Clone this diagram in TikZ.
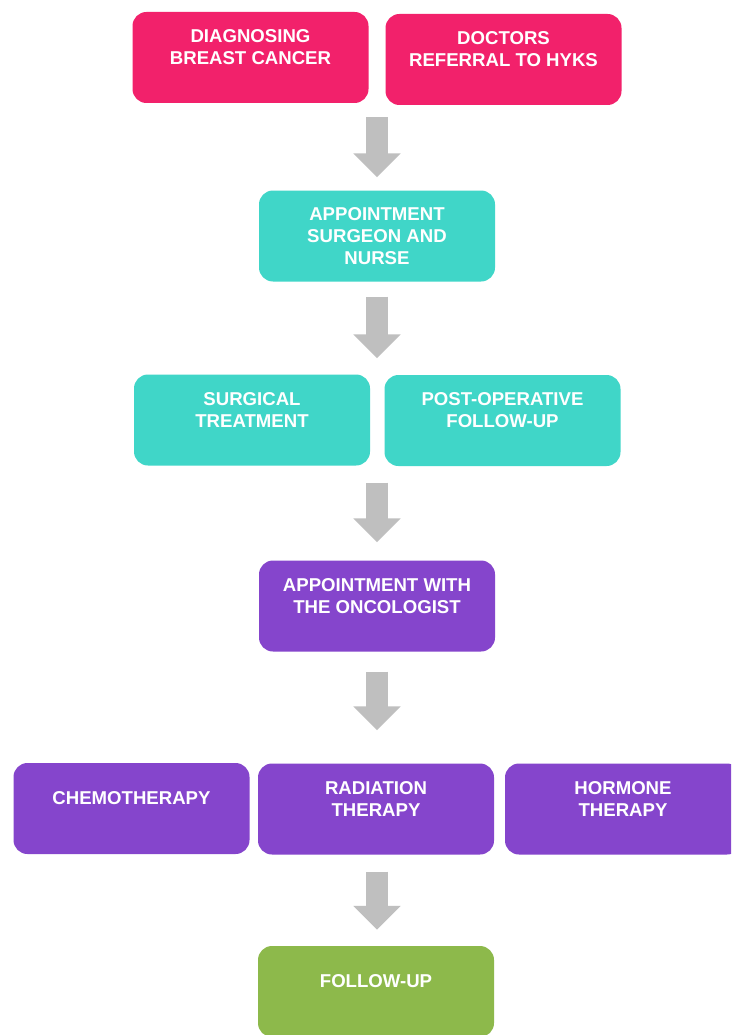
\documentclass[tikz,border=0pt]{standalone}
\usepackage{fontspec}
\setmainfont{Liberation Sans}
\usetikzlibrary{arrows.meta}
\definecolor{cPink}{HTML}{F2216B}
\definecolor{cTeal}{HTML}{40D6C8}
\definecolor{cPurple}{HTML}{8545CC}
\definecolor{cGreen}{HTML}{8DB94B}
\definecolor{cGray}{HTML}{BFBFBF}
\newcommand{\steptext}[2][20pt]{\parbox[c][91pt][c]{226pt}{\centering #2\par\vspace{#1}}}
\tikzset{
    stepbox/.style={fill=#1, rounded corners=14pt, minimum width=236pt, inner sep=0pt,
        text=white, font=\fontsize{18.6}{22}\selectfont\bfseries},
    flow/.style={cGray, line width=22pt, -{Triangle[width=46pt,length=24pt]}}
}

\begin{document}
\begin{tikzpicture}[x=1pt,y=-1pt]
\clip (0,0) rectangle (731,1035);
\fill[white] (0,0) rectangle (731,1035);
\node[stepbox=cPink] (diag) at (250.5, 57.5) {\steptext{DIAGNOSING\\BREAST CANCER}};
\node[stepbox=cPink] (refer) at (503.5, 59.5) {\steptext{DOCTORS\\REFERRAL TO HYKS}};
\node[stepbox=cTeal] (surg) at (377, 236) {\steptext[0pt]{APPOINTMENT\\SURGEON AND\\NURSE}};
\node[stepbox=cTeal] (surgical) at (252, 420) {\steptext{SURGICAL\\TREATMENT}};
\node[stepbox=cTeal] (postop) at (502.5, 420.5) {\steptext{POST-OPERATIVE\\FOLLOW-UP}};
\node[stepbox=cPurple] (onco) at (377, 606) {\steptext{APPOINTMENT WITH\\THE ONCOLOGIST}};
\node[stepbox=cPurple] (chemo) at (131.5, 808.5) {\steptext{CHEMOTHERAPY}};
\node[stepbox=cPurple] (radiation) at (376, 809) {\steptext{RADIATION\\THERAPY}};
\node[stepbox=cPurple] (hormone) at (623, 809) {\steptext{HORMONE\\THERAPY}};
\node[stepbox=cGreen] (follow) at (376, 991.5) {\steptext{FOLLOW-UP}};
% arrows
\draw[flow, shorten <=14pt, shorten >=13pt] (surg.north |- diag.south) -- (surg.north);
\draw[flow, shorten <=15pt, shorten >=16pt] (surg.south) -- (surg.south |- surgical.north);
\draw[flow, shorten <=17pt, shorten >=18pt] (onco.north |- surgical.south) -- (onco.north);
\draw[flow, shorten <=20pt, shorten >=33pt] (onco.south) -- (onco.south |- radiation.north);
\draw[flow, shorten <=17pt, shorten >=16pt] (onco.south |- radiation.south) -- (onco.south |- follow.north);
\end{tikzpicture}
\end{document}
